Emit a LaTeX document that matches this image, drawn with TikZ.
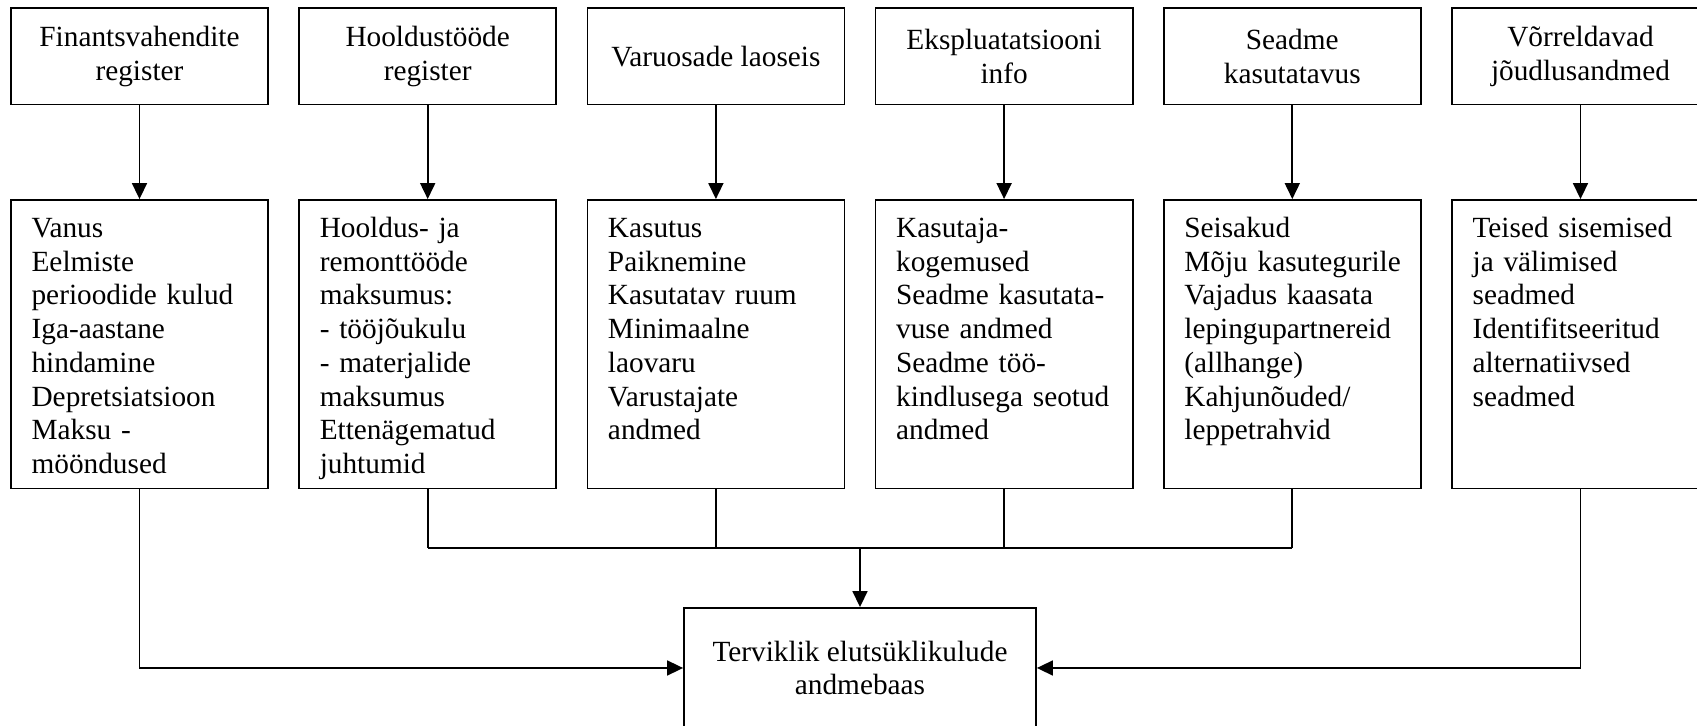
\documentclass[tikz,border=0pt]{standalone}
\usepackage{fontspec}
\setmainfont{Liberation Serif}
\usetikzlibrary{arrows.meta,calc}
\begin{document}
\begin{tikzpicture}[x=0.4096pt,y=-0.4096pt,
  every node/.style={font=\fontsize{12}{13.8}\selectfont},
  topbox/.style={draw, line width=0.7pt, minimum width=105.3pt, minimum height=39.4pt,
                 align=center, inner sep=0pt},
  lowbox/.style={draw, line width=0.7pt, minimum width=105.3pt, minimum height=118.2pt,
                 inner sep=0pt},
  lowtext/.style={anchor=north west, inner sep=0pt, text width=96pt, align=left},
  dbbox/.style={draw, line width=0.7pt, minimum width=144.2pt, minimum height=49.2pt,
                align=center, inner sep=0pt},
  feed/.style={line width=0.8pt, -{Triangle[length=6.55pt,width=6.1pt]}},
  link/.style={line width=0.8pt},
  bus/.style={line width=1.1pt},
]
\useasboundingbox (0,0) rectangle (1697,726);

% source registers
\node[topbox] (t1) at (139.5,56.4)  {Finantsvahendite\\register};
\node[topbox] (t2) at (427.7,56.4)  {Hooldustööde\\register};
\node[topbox] (t3) at (715.9,56.4)  {Varuosade laoseis};
\node[topbox] (t4) at (1004.1,56.4) {Ekspluatatsiooni\\info};
\node[topbox] (t5) at (1292.3,56.4) {Seadme\\kasutatavus};
\node[topbox] (t6) at (1580.5,56.4) {Võrreldavad\\jõudlusandmed};

% data items per register
\node[lowbox] (l1) at (139.5,344.25)  {};
\node[lowbox] (l2) at (427.7,344.25)  {};
\node[lowbox] (l3) at (715.9,344.25)  {};
\node[lowbox] (l4) at (1004.1,344.25) {};
\node[lowbox] (l5) at (1292.3,344.25) {};
\node[lowbox] (l6) at (1580.5,344.25) {};

\node[lowtext] (x1) at ($(l1.north west)+(21,14.4)$)
  {\strut Vanus\\Eelmiste\\perioodide kulud\\Iga-aastane\\hindamine\\Depretsiatsioon\\Maksu -\\mööndused};
\node[lowtext] (x2) at ($(l2.north west)+(21,14.4)$)
  {\strut Hooldus- ja\\remonttööde\\maksumus:\\- tööjõukulu\\- materjalide\\maksumus\\Ettenägematud\\juhtumid};
\node[lowtext] (x3) at ($(l3.north west)+(21,14.4)$)
  {\strut Kasutus\\Paiknemine\\Kasutatav ruum\\Minimaalne\\laovaru\\Varustajate\\andmed};
\node[lowtext] (x4) at ($(l4.north west)+(21,14.4)$)
  {\strut Kasutaja-\\kogemused\\Seadme kasutata-\\vuse andmed\\Seadme töö-\\kindlusega seotud\\andmed};
\node[lowtext] (x5) at ($(l5.north west)+(21,14.4)$)
  {\strut Seisakud\\Mõju kasutegurile\\Vajadus kaasata\\lepingupartnereid\\(allhange)\\Kahjunõuded/\\leppetrahvid};
\node[lowtext] (x6) at ($(l6.north west)+(21,14.4)$)
  {\strut Teised sisemised\\ja välimised\\seadmed\\Identifitseeritud\\alternatiivsed\\seadmed};

% combined database
\node[dbbox] (db) at (860,668) {Terviklik elutsüklikulude\\andmebaas};

% register -> items
\foreach \i in {1,...,6}
  \draw[feed] (t\i.south) -- (l\i.north);

% collecting bus for the middle four
\coordinate (busc) at (860,548);
\foreach \i in {2,...,5}
  \draw[link] (l\i.south) -- (l\i.south |- busc);
\draw[bus] (l2.south |- busc) -- (l5.south |- busc);
\draw[feed] (busc) -- (db.north);

% outer columns
\draw[feed] (l1.south) |- (db.west);
\draw[feed] (l6.south) |- (db.east);
\end{tikzpicture}
\end{document}
